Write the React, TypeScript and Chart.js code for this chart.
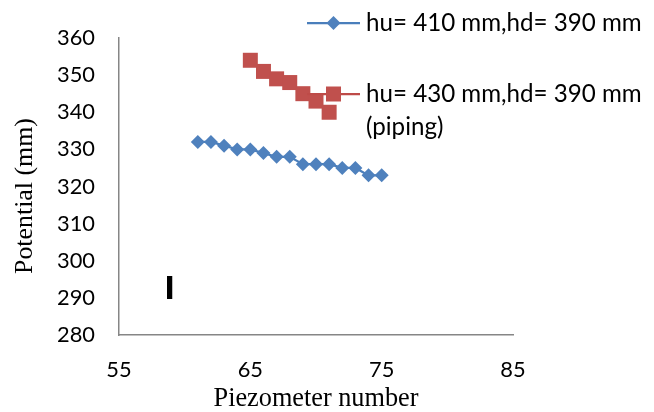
import React, { useEffect, useRef } from 'react';
import { Chart, registerables } from 'chart.js';

Chart.register(...registerables);

const series1Label = 'hu= 410 mm,hd= 390 mm';
const series1X = [61, 62, 63, 64, 65, 66, 67, 68, 69, 70, 71, 72, 73, 74, 75];
const series1Y = [332, 332, 331, 330, 330, 329, 328, 328, 326, 326, 326, 325, 325, 323, 323];

const series2Label = ['hu= 430 mm,hd= 390 mm', '(piping)'];
const series2X = [65, 66, 67, 68, 69, 70, 71];
const series2Y = [354, 351, 349, 348, 345, 343, 340];

const xTicks = [55, 65, 75, 85];
const yTicks = [280, 290, 300, 310, 320, 330, 340, 350, 360];

const xTitle = 'Piezometer number';
const yTitle = 'Potential (mm)';

const strayMark = 'ا';
const strayMarkX = [58.85];
const strayMarkY = [291.7];

const BLUE_LINE = '#4A7EBB';
const BLUE_FILL = '#4F81BD';
const RED_LINE = '#BE4B48';
const RED_FILL = '#C0504D';

const SANS = 'Lato';
const SERIF = '"Liberation Serif"';

function fitSize(text: string, family: string, target: number) {
  const c = document.createElement('canvas').getContext('2d');
  if (!c) return 20;
  c.font = `100px ${family}`;
  const w = c.measureText(text).width;
  return w > 0 ? (100 * target) / w : 20;
}

function drawMarker(ctx: CanvasRenderingContext2D, style: string, x: number, y: number, fill: string) {
  ctx.save();
  ctx.fillStyle = fill;
  ctx.beginPath();
  if (style === 'rectRot') {
    const r = 7;
    ctx.moveTo(x, y - r);
    ctx.lineTo(x + r, y);
    ctx.lineTo(x, y + r);
    ctx.lineTo(x - r, y);
    ctx.closePath();
  } else {
    const h = 7.5;
    ctx.rect(x - h, y - h, 2 * h, 2 * h);
  }
  ctx.fill();
  ctx.restore();
}

export default function App() {
  const ref = useRef<HTMLCanvasElement>(null);
  useEffect(() => {
    if (!ref.current) return;
    const tickSize = fitSize('360', SANS, 38);
    const legendSize = fitSize(series1Label, SANS, 276);
    const xTitleSize = fitSize(xTitle, SERIF, 205);
    const yTitleSize = fitSize(yTitle, SERIF, 156);

    const overlayPlugin = {
      id: 'overlay',
      afterDraw(chart: any) {
        const ctx: CanvasRenderingContext2D = chart.ctx;
        ctx.save();
        // y axis title
        ctx.save();
        ctx.translate(25, 196);
        ctx.rotate(-Math.PI / 2);
        ctx.fillStyle = '#000';
        ctx.font = `${yTitleSize}px ${SERIF}`;
        ctx.textAlign = 'center';
        ctx.textBaseline = 'middle';
        ctx.fillText(yTitle, 0, 0);
        ctx.restore();

        // stray glyph from the source image
        const sx = chart.scales.x.getPixelForValue(strayMarkX[0]);
        const sy = chart.scales.y.getPixelForValue(strayMarkY[0]);
        ctx.fillStyle = '#000';
        ctx.font = 'bold 30px "DejaVu Sans"';
        ctx.textAlign = 'center';
        ctx.textBaseline = 'middle';
        ctx.fillText(strayMark, sx, sy);

        // legend
        const entries = [
          { ds: 0, y: 23, lines: [series1Label] },
          { ds: 1, y: 94, lines: series2Label },
        ];
        entries.forEach((e) => {
          const ds = chart.data.datasets[e.ds];
          ctx.strokeStyle = ds.borderColor;
          ctx.lineWidth = 2.25;
          ctx.beginPath();
          ctx.moveTo(307, e.y);
          ctx.lineTo(360, e.y);
          ctx.stroke();
          drawMarker(ctx, ds.pointStyle, 333.5, e.y, ds.pointBackgroundColor);
          ctx.fillStyle = '#000';
          ctx.font = `${legendSize}px ${SANS}`;
          ctx.textAlign = 'left';
          ctx.textBaseline = 'middle';
          e.lines.forEach((t, i) => ctx.fillText(t, 366, e.y + i * 33));
        });
        ctx.restore();
      },
    };

    const chart = new Chart(ref.current, {
      type: 'line',
      data: {
        datasets: [
          {
            label: series1Label,
            data: series1X.map((x, i) => ({ x, y: series1Y[i] })),
            borderColor: BLUE_LINE,
            backgroundColor: BLUE_FILL,
            pointBackgroundColor: BLUE_FILL,
            pointBorderColor: BLUE_FILL,
            pointStyle: 'rectRot',
            pointRadius: 7,
            pointBorderWidth: 0,
            borderWidth: 2.25,
          },
          {
            label: series2Label.join(' '),
            data: series2X.map((x, i) => ({ x, y: series2Y[i] })),
            borderColor: RED_LINE,
            backgroundColor: RED_FILL,
            pointBackgroundColor: RED_FILL,
            pointBorderColor: RED_FILL,
            pointStyle: 'rect',
            pointRadius: 10.6,
            pointBorderWidth: 0,
            borderWidth: 2.25,
          },
        ],
      },
      options: {
        animation: false,
        responsive: false,
        maintainAspectRatio: false,
        layout: { padding: { left: 0, right: 141, top: 38, bottom: 0 } },
        plugins: { legend: { display: false }, tooltip: { enabled: false } },
        scales: {
          x: {
            type: 'linear',
            min: 55,
            max: 85,
            afterBuildTicks: (s: any) => {
              s.ticks = xTicks.map((v) => ({ value: v }));
            },
            afterFit: (s: any) => {
              s.height = 77;
            },
            grid: { drawOnChartArea: false, drawTicks: false },
            border: { display: true, color: '#868686', width: 1.5 },
            ticks: { color: '#000', padding: 22, font: { family: SANS, size: tickSize } },
            title: {
              display: true,
              text: xTitle,
              color: '#000',
              padding: 0,
              font: { family: SERIF, size: xTitleSize, lineHeight: 1 },
            },
          },
          y: {
            type: 'linear',
            min: 280,
            max: 360,
            afterBuildTicks: (s: any) => {
              s.ticks = yTicks.map((v) => ({ value: v }));
            },
            afterFit: (s: any) => {
              s.width = 119;
            },
            grid: { drawOnChartArea: false, drawTicks: false },
            border: { display: true, color: '#868686', width: 1.5 },
            ticks: { color: '#000', padding: 24, font: { family: SANS, size: tickSize } },
          },
        },
      },
      plugins: [overlayPlugin],
    } as any);
    return () => chart.destroy();
  }, []);
  return (
    <div style={{ position: 'absolute', left: 0, top: 0, width: 654, height: 412, background: '#fff' }}>
      <canvas ref={ref} width={654} height={412} style={{ width: 654, height: 412 }} />
    </div>
  );
}
